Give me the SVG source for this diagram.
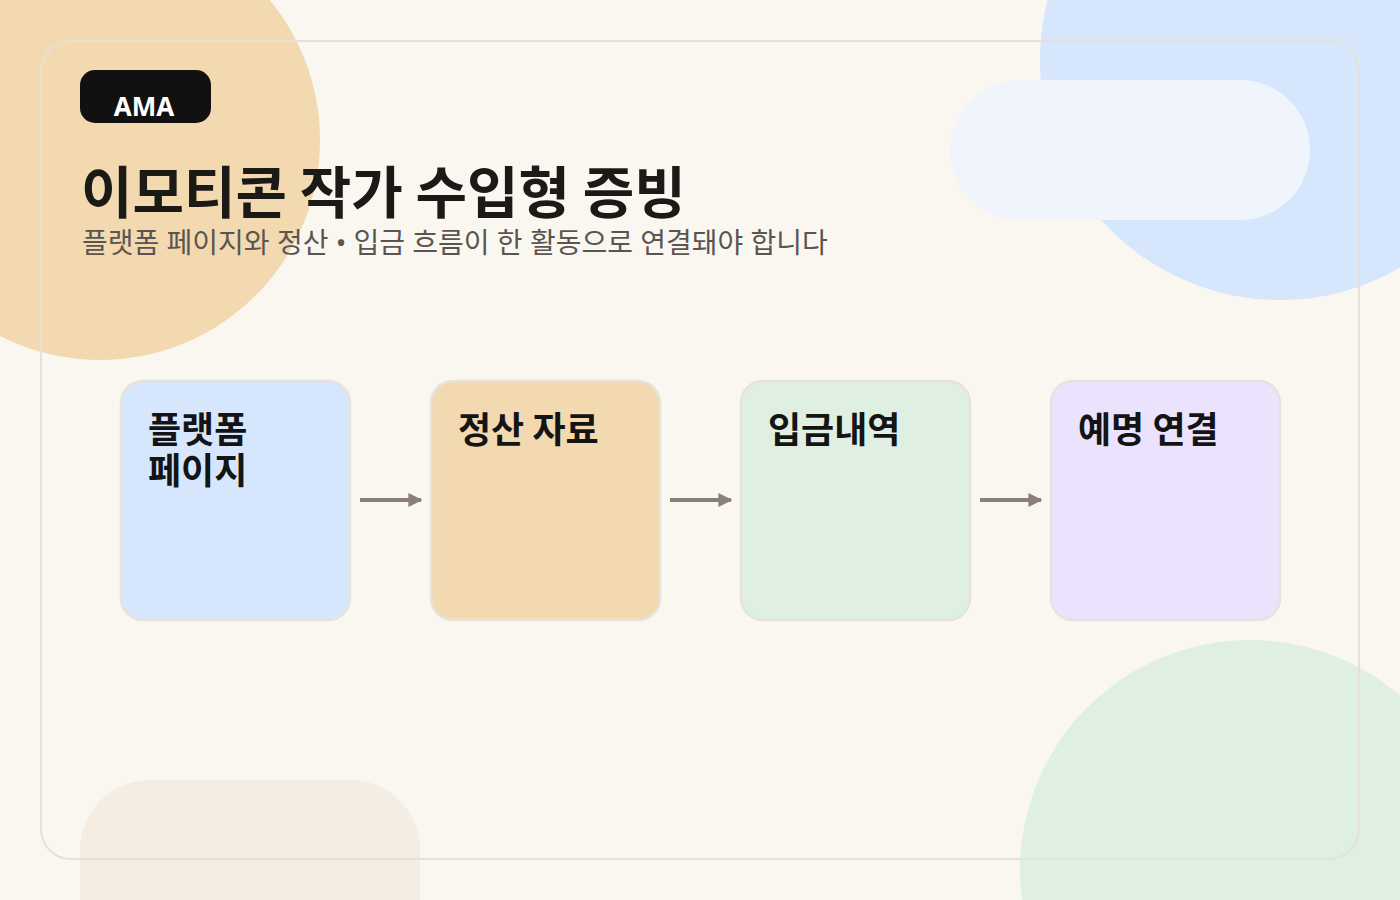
<svg xmlns="http://www.w3.org/2000/svg" width="1400" height="900" viewBox="0 0 1400 900">
<defs>
<style>
.node rect{stroke:#e6e3de;stroke-width:2.5}
.nt{font-family:"Noto Sans CJK KR","Noto Sans",sans-serif;font-weight:700;font-size:36px;fill:#141414}
.conn line{stroke:#8a8076;stroke-width:4}
</style>
<marker id="ah" viewBox="0 0 10 10" refX="9" refY="5" markerWidth="3.5" markerHeight="3.5" orient="auto" markerUnits="strokeWidth">
<path d="M0,0 L10,5 L0,10 z" fill="#8a8076"/>
</marker>
</defs>
<rect width="1400" height="900" fill="#faf7f0"/>
<circle cx="100" cy="140" r="220" fill="#f2d9b0"/>
<circle cx="1280" cy="60" r="240" fill="#d6e6fd"/>
<rect x="950" y="80" width="360" height="140" rx="70" fill="#f0f4fc"/>
<circle cx="1250" cy="870" r="230" fill="#dff0e2"/>
<rect x="80" y="780" width="340" height="200" rx="70" fill="#f5ede2"/>
<rect x="41" y="41" width="1318" height="818" rx="30" fill="none" stroke="#e5e0d8" stroke-width="2"/>
<g id="badge">
<rect x="80" y="70" width="131" height="53" rx="15" fill="#111111"/>
<text x="144" y="116" text-anchor="middle" font-family="'Noto Sans','Noto Sans CJK KR',sans-serif" font-weight="700" font-size="26" fill="#ffffff">AMA</text>
</g>
<text id="title" x="81" y="213" font-family="'Noto Sans CJK KR',sans-serif" font-weight="700" font-size="56" fill="#1c1a17">이모티콘 작가 수입형 증빙</text>
<text id="subtitle" x="82" y="253" font-family="'Noto Sans','Noto Sans CJK KR',sans-serif" font-size="28" fill="#5a5550">플랫폼 페이지와 정산 • 입금 흐름이 한 활동으로 연결돼야 합니다</text>
<g id="connectors" class="conn">
<line x1="360" y1="500" x2="421" y2="500" marker-end="url(#ah)"/>
<line x1="670" y1="500" x2="731" y2="500" marker-end="url(#ah)"/>
<line x1="980" y1="500" x2="1041" y2="500" marker-end="url(#ah)"/>
</g>
<g id="node1" class="node">
<rect x="121" y="381" width="229" height="239" rx="22" fill="#d6e6fd"/>
<text class="nt" x="148" y="443">플랫폼</text>
<text class="nt" x="148" y="484">페이지</text>
</g>
<g id="node2" class="node">
<rect x="431" y="381" width="229" height="239" rx="22" fill="#f2d9b0"/>
<text class="nt" x="458" y="443">정산 자료</text>
</g>
<g id="node3" class="node">
<rect x="741" y="381" width="229" height="239" rx="22" fill="#dff0e2"/>
<text class="nt" x="768" y="443">입금내역</text>
</g>
<g id="node4" class="node">
<rect x="1051" y="381" width="229" height="239" rx="22" fill="#ebe3fd"/>
<text class="nt" x="1078" y="443">예명 연결</text>
</g>
</svg>
